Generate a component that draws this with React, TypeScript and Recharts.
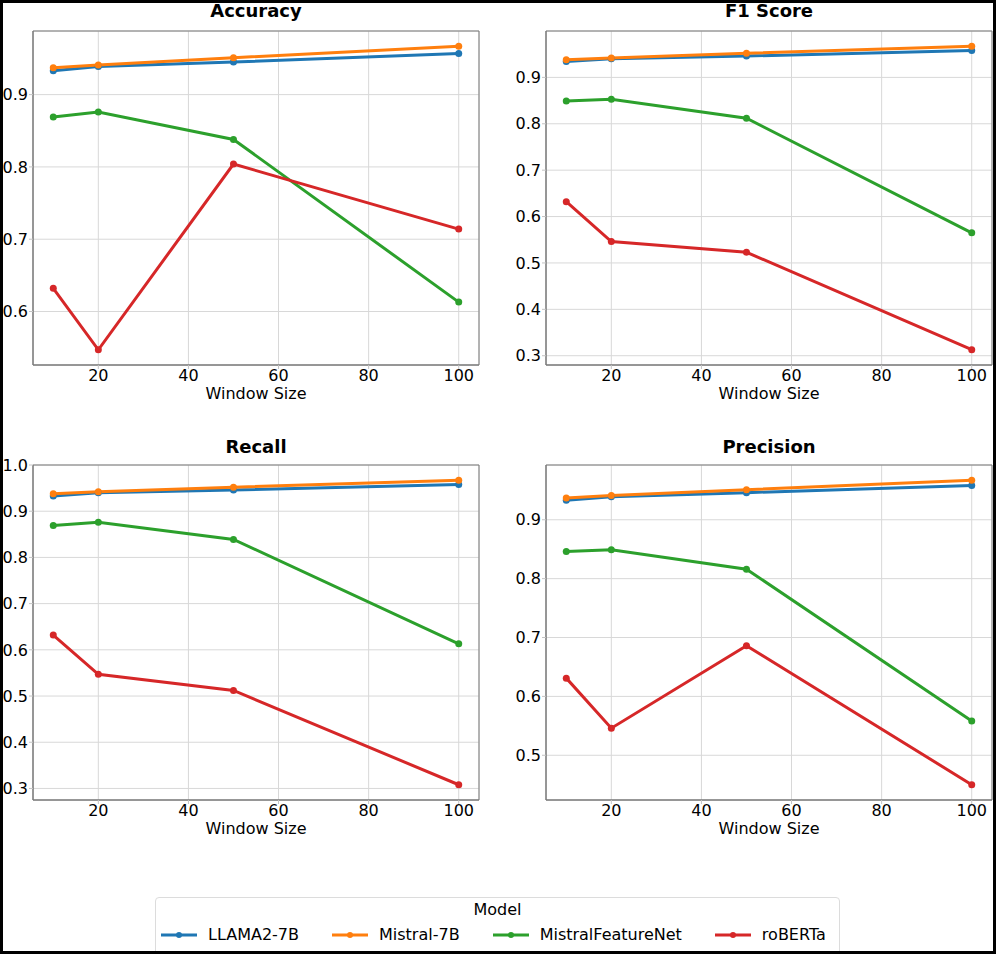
import React from 'react'
import { LineChart, Line, XAxis, YAxis, CartesianGrid, ReferenceArea } from 'recharts'

const windowSizes = [10, 20, 50, 100]
const models = ['LLAMA2-7B', 'Mistral-7B', 'MistralFeatureNet', 'roBERTa']
const colors = ['#1f77b4', '#ff7f0e', '#2ca02c', '#d62728']

// values per model, in the order of windowSizes
const accuracy = {
    'LLAMA2-7B': [0.933, 0.939, 0.945, 0.957],
    'Mistral-7B': [0.937, 0.941, 0.951, 0.967],
    MistralFeatureNet: [0.869, 0.876, 0.838, 0.613],
    roBERTa: [0.632, 0.547, 0.804, 0.714],
}
const f1Score = {
    'LLAMA2-7B': [0.934, 0.94, 0.946, 0.958],
    'Mistral-7B': [0.938, 0.942, 0.952, 0.967],
    MistralFeatureNet: [0.849, 0.853, 0.812, 0.565],
    roBERTa: [0.632, 0.546, 0.523, 0.313],
}
const recall = {
    'LLAMA2-7B': [0.933, 0.94, 0.946, 0.958],
    'Mistral-7B': [0.938, 0.942, 0.952, 0.967],
    MistralFeatureNet: [0.869, 0.876, 0.839, 0.613],
    roBERTa: [0.632, 0.547, 0.512, 0.308],
}
const precision = {
    'LLAMA2-7B': [0.933, 0.939, 0.946, 0.958],
    'Mistral-7B': [0.937, 0.941, 0.951, 0.967],
    MistralFeatureNet: [0.846, 0.849, 0.816, 0.558],
    roBERTa: [0.631, 0.546, 0.686, 0.45],
}

const xDomain = [5.5, 104.5]
const xTicks = [20, 40, 60, 80, 100]

const accuracyDomain = [0.526, 0.988]
const accuracyTicks = [0.6, 0.7, 0.8, 0.9]
const f1Domain = [0.28, 1.0]
const f1Ticks = [0.3, 0.4, 0.5, 0.6, 0.7, 0.8, 0.9]
const recallDomain = [0.275, 1.0]
const recallTicks = [0.3, 0.4, 0.5, 0.6, 0.7, 0.8, 0.9, 1.0]
const precisionDomain = [0.424, 0.993]
const precisionTicks = [0.5, 0.6, 0.7, 0.8, 0.9]

const FONT = '"DejaVu Sans", sans-serif'
const SPINE = '#7a7a7a'
const GRID = '#d8d8d8'

function toRows(values: Record<string, number[]>) {
    return windowSizes.map((w, i) => {
        const row: Record<string, number> = { w }
        models.forEach((m) => {
            row[m] = values[m][i]
        })
        return row
    })
}

interface PanelProps {
    title: string
    values: Record<string, number[]>
    domain: number[]
    ticks: number[]
    left: number
    top: number
    plotLeft: number
    plotTop: number
    plotHeight: number
    titleBaseline: number
}

function Panel({ title, values, domain, ticks, left, top, plotLeft, plotTop, plotHeight, titleBaseline }: PanelProps) {
    const width = 498
    const plotWidth = 446
    const height = plotTop + plotHeight + 40
    const rows = toRows(values)
    return (
        <div style={{ position: 'absolute', left, top, width, height }}>
            <div
                style={{
                    position: 'absolute',
                    left: plotLeft,
                    width: plotWidth,
                    top: titleBaseline - 15,
                    fontSize: 18,
                    lineHeight: '18px',
                    fontWeight: 'bold',
                    textAlign: 'center',
                    color: '#000',
                }}
            >
                {title}
            </div>
            <LineChart
                width={width}
                height={height}
                data={rows}
                margin={{ top: plotTop, right: width - plotLeft - plotWidth, left: 0, bottom: 0 }}
            >
                <CartesianGrid stroke={GRID} strokeWidth={1} />
                <XAxis
                    type="number"
                    dataKey="w"
                    domain={xDomain}
                    ticks={xTicks}
                    allowDataOverflow
                    height={40}
                    tickSize={4}
                    tickMargin={1}
                    tickLine={{ stroke: '#c4c4c4' }}
                    axisLine={{ stroke: SPINE }}
                    tick={{ fontSize: 16, fill: '#000' }}
                    label={{ value: 'Window Size', position: 'insideBottom', offset: 6, fontSize: 16, fill: '#000' }}
                />
                <YAxis
                    type="number"
                    domain={domain}
                    ticks={ticks}
                    allowDataOverflow
                    width={plotLeft}
                    tickSize={4}
                    tickMargin={1}
                    tickLine={{ stroke: '#c4c4c4' }}
                    axisLine={{ stroke: SPINE }}
                    tick={{ fontSize: 16, fill: '#000' }}
                    tickFormatter={(v: number) => v.toFixed(1)}
                />
                <ReferenceArea
                    x1={xDomain[0]}
                    x2={xDomain[1]}
                    y1={domain[0]}
                    y2={domain[1]}
                    fill="none"
                    fillOpacity={0}
                    stroke={SPINE}
                    strokeWidth={1}
                    ifOverflow="visible"
                />
                {models.map((m, i) => (
                    <Line
                        key={m}
                        type="linear"
                        dataKey={m}
                        stroke={colors[i]}
                        strokeWidth={3}
                        dot={{ r: 3.5, fill: colors[i], stroke: colors[i], strokeWidth: 0 }}
                        activeDot={false}
                        isAnimationActive={false}
                    />
                ))}
            </LineChart>
        </div>
    )
}

function LegendBox() {
    return (
        <div
            style={{
                position: 'absolute',
                left: 155,
                top: 897,
                width: 685,
                height: 60,
                boxSizing: 'border-box',
                border: '1px solid #dcdcdc',
                borderRadius: 4,
                background: '#fff',
            }}
        >
            <div
                style={{
                    position: 'absolute',
                    left: 0,
                    right: 0,
                    top: 4,
                    fontSize: 16,
                    lineHeight: '16px',
                    textAlign: 'center',
                    color: '#000',
                }}
            >
                Model
            </div>
            <div
                style={{
                    position: 'absolute',
                    left: 5,
                    top: 29,
                    display: 'flex',
                    alignItems: 'center',
                    gap: 33,
                    fontSize: 16,
                    lineHeight: '16px',
                    whiteSpace: 'nowrap',
                }}
            >
                {models.map((m, i) => (
                    <div key={m} style={{ display: 'flex', alignItems: 'center' }}>
                        <svg width={36} height={10} style={{ marginRight: 11 }}>
                            <line x1={0} y1={5} x2={36} y2={5} stroke={colors[i]} strokeWidth={3} />
                            <circle cx={18} cy={5} r={3} fill={colors[i]} />
                        </svg>
                        <span>{m}</span>
                    </div>
                ))}
            </div>
        </div>
    )
}

export default function App() {
    return (
        <div
            style={{
                position: 'absolute',
                left: 0,
                top: 0,
                width: 996,
                height: 954,
                background: '#fff',
                fontFamily: FONT,
                overflow: 'hidden',
            }}
        >
            <Panel title="Accuracy" values={accuracy} domain={accuracyDomain} ticks={accuracyTicks}
                left={0} top={0} plotLeft={33} plotTop={31} plotHeight={334} titleBaseline={17} />
            <Panel title="F1 Score" values={f1Score} domain={f1Domain} ticks={f1Ticks}
                left={498} top={0} plotLeft={48} plotTop={31} plotHeight={334} titleBaseline={17} />
            <Panel title="Recall" values={recall} domain={recallDomain} ticks={recallTicks}
                left={0} top={430} plotLeft={33} plotTop={35} plotHeight={335} titleBaseline={23} />
            <Panel title="Precision" values={precision} domain={precisionDomain} ticks={precisionTicks}
                left={498} top={430} plotLeft={48} plotTop={35} plotHeight={335} titleBaseline={23} />
            <LegendBox />
            <div
                style={{
                    position: 'absolute',
                    left: 0,
                    top: 0,
                    width: 996,
                    height: 954,
                    boxSizing: 'border-box',
                    border: '3px solid #000',
                    pointerEvents: 'none',
                }}
            />
        </div>
    )
}
